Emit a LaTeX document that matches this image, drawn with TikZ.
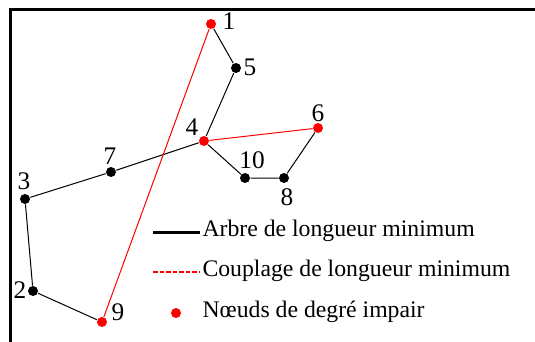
\documentclass[tikz,border=0pt]{standalone}
\usepackage{fontspec}
\setmainfont{Liberation Serif}
\tikzset{every picture/.style={line width=0.75pt}}
\tikzset{
vertex/.style={circle,fill=black,inner sep=0pt,minimum size=7.5pt},
oddvertex/.style={vertex,fill=red},
num/.style={inner sep=0.75pt,font=\fontsize{19}{22}\selectfont},
tree/.style={draw=black,line width=0.75pt},
matching/.style={draw=red,line width=0.75pt},
legtext/.style={anchor=west,inner sep=0.75pt,font=\fontsize{17.8}{21}\selectfont}}

\begin{document}
\begin{tikzpicture}[x=0.75pt,y=0.75pt,yscale=-1,xscale=1]
\useasboundingbox (0,0) rectangle (535,342);

%Frame
\draw [line width=2.25pt]  (535,10) -- (10,10) -- (10,342) ;

% Nodes
\node [oddvertex] (n1) at (211,24) {};
\node [vertex] (n5) at (236,68) {};
\node [oddvertex] (n4) at (204,141) {};
\node [oddvertex] (n6) at (318,128) {};
\node [vertex] (n10) at (245,178) {};
\node [vertex] (n8) at (284,178) {};
\node [vertex] (n7) at (111,172) {};
\node [vertex] (n3) at (25,199) {};
\node [vertex] (n2) at (33,291) {};
\node [oddvertex] (n9) at (102,322) {};

%Tree edges
\draw [tree] (n1) -- (n5) -- (n4) -- (n7) -- (n3) -- (n2) -- (n9) ;
\draw [tree] (n4) -- (n10) -- (n8) -- (n6) ;
%Matching edges
\draw [matching] (n1) -- (n9) ;
\draw [matching] (n4) -- (n6) ;

% Text Node
\node [num] (t1) at (229,21) {1};
\node [num] (t5) at (250,67) {5};
\node [num] (t4) at (192,127) {4};
\node [num] (t6) at (318,113) {6};
\node [num] (t10) at (252,160) {10};
\node [num] (t8) at (287,197) {8};
\node [num] (t7) at (110,156) {7};
\node [num] (t3) at (24,181) {3};
\node [num] (t2) at (20,290) {2};
\node [num] (t9) at (118,312) {9};

%Legend
\coordinate (la) at (153,232);
\coordinate (lb) at (200,232);
\coordinate (lc) at (153,272);
\coordinate (ld) at (200,272);
\draw [line width=2.25pt] (la) -- (lb) ;
\draw [color=red,line width=1.5pt,dash pattern={on 3.4pt off 1.5pt}] (lc) -- (ld) ;
\node [oddvertex] (ldot) at (176,313) {};
\node [legtext] (leg1) at (201,231) {Arbre de longueur minimum};
\node [legtext] (leg2) at (201,271) {Couplage de longueur minimum};
\node [legtext] (leg3) at (201,312) {Nœuds de degré impair};

\end{tikzpicture}
\end{document}
